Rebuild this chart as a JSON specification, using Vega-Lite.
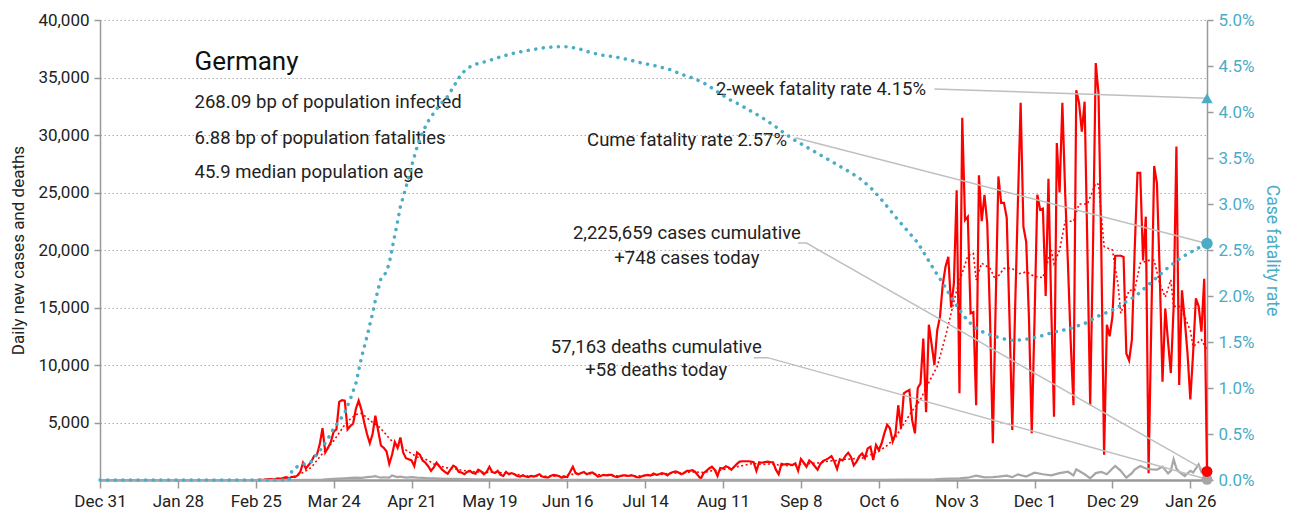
{
"$schema":"https://vega.github.io/schema/vega-lite/v6.json",
"width":1107,"height":460,
"autosize":{"type":"none"},
"padding":{"left":100,"top":20,"right":92,"bottom":40},
"config":{"font":"Roboto","view":{"stroke":null}},
"datasets":{
"cases":[
{"d":"2019-12-31","c":0},{"d":"2020-01-14","c":0},{"d":"2020-01-28","c":0},{"d":"2020-02-11","c":0},{"d":"2020-02-25","c":0},
{"d":"2020-02-26","c":10},{"d":"2020-02-27","c":20},{"d":"2020-02-28","c":30},{"d":"2020-02-29","c":60},
{"d":"2020-03-01","c":70},{"d":"2020-03-02","c":50},{"d":"2020-03-03","c":80},{"d":"2020-03-04","c":140},{"d":"2020-03-05","c":100},{"d":"2020-03-06","c":200},{"d":"2020-03-07","c":250},{"d":"2020-03-08","c":150},{"d":"2020-03-09","c":280},{"d":"2020-03-10","c":250},{"d":"2020-03-11","c":400},{"d":"2020-03-12","c":700},{"d":"2020-03-13","c":1500},{"d":"2020-03-14","c":1000},{"d":"2020-03-15","c":1300},{"d":"2020-03-16","c":1600},{"d":"2020-03-17","c":2100},{"d":"2020-03-18","c":2200},{"d":"2020-03-19","c":3100},{"d":"2020-03-20","c":4500},{"d":"2020-03-21","c":2400},{"d":"2020-03-22","c":2800},{"d":"2020-03-23","c":3300},{"d":"2020-03-24","c":4200},{"d":"2020-03-25","c":4400},{"d":"2020-03-26","c":6800},{"d":"2020-03-27","c":6950},{"d":"2020-03-28","c":6900},{"d":"2020-03-29","c":4400},{"d":"2020-03-30","c":4700},{"d":"2020-03-31","c":4900},
{"d":"2020-04-01","c":6200},{"d":"2020-04-02","c":6900},{"d":"2020-04-03","c":6100},{"d":"2020-04-04","c":5000},{"d":"2020-04-05","c":4000},{"d":"2020-04-06","c":3200},{"d":"2020-04-07","c":4000},{"d":"2020-04-08","c":5600},{"d":"2020-04-09","c":4300},{"d":"2020-04-10","c":3000},{"d":"2020-04-11","c":2800},{"d":"2020-04-12","c":2500},{"d":"2020-04-13","c":1400},{"d":"2020-04-14","c":2200},{"d":"2020-04-15","c":3300},{"d":"2020-04-16","c":2800},{"d":"2020-04-17","c":3700},{"d":"2020-04-18","c":2400},{"d":"2020-04-19","c":1900},{"d":"2020-04-20","c":1800},{"d":"2020-04-21","c":1700},{"d":"2020-04-22","c":1200},{"d":"2020-04-23","c":2400},{"d":"2020-04-24","c":2200},{"d":"2020-04-25","c":1700},{"d":"2020-04-26","c":1500},{"d":"2020-04-27","c":1200},{"d":"2020-04-28","c":800},{"d":"2020-04-29","c":1100},{"d":"2020-04-30","c":1500},
{"d":"2020-05-01","c":1200},{"d":"2020-05-02","c":900},{"d":"2020-05-03","c":700},{"d":"2020-05-04","c":550},{"d":"2020-05-05","c":900},{"d":"2020-05-06","c":1250},{"d":"2020-05-07","c":1100},{"d":"2020-05-08","c":700},{"d":"2020-05-09","c":650},{"d":"2020-05-10","c":500},{"d":"2020-05-11","c":700},{"d":"2020-05-12","c":800},{"d":"2020-05-13","c":600},{"d":"2020-05-14","c":550},{"d":"2020-05-15","c":900},{"d":"2020-05-16","c":750},{"d":"2020-05-17","c":500},{"d":"2020-05-18","c":700},{"d":"2020-05-19","c":1150},{"d":"2020-05-20","c":700},{"d":"2020-05-21","c":600},{"d":"2020-05-22","c":800},{"d":"2020-05-23","c":450},{"d":"2020-05-24","c":350},{"d":"2020-05-25","c":700},{"d":"2020-05-26","c":500},{"d":"2020-05-27","c":600},{"d":"2020-05-28","c":500},{"d":"2020-05-29","c":350},{"d":"2020-05-30","c":300},{"d":"2020-05-31","c":400},
{"d":"2020-06-01","c":300},{"d":"2020-06-02","c":250},{"d":"2020-06-03","c":350},{"d":"2020-06-04","c":300},{"d":"2020-06-05","c":400},{"d":"2020-06-06","c":500},{"d":"2020-06-07","c":300},{"d":"2020-06-08","c":250},{"d":"2020-06-09","c":200},{"d":"2020-06-10","c":350},{"d":"2020-06-11","c":450},{"d":"2020-06-12","c":400},{"d":"2020-06-13","c":350},{"d":"2020-06-14","c":200},{"d":"2020-06-15","c":300},{"d":"2020-06-16","c":250},{"d":"2020-06-17","c":700},{"d":"2020-06-18","c":1150},{"d":"2020-06-19","c":600},{"d":"2020-06-20","c":500},{"d":"2020-06-21","c":600},{"d":"2020-06-22","c":700},{"d":"2020-06-23","c":500},{"d":"2020-06-24","c":600},{"d":"2020-06-25","c":650},{"d":"2020-06-26","c":500},{"d":"2020-06-27","c":300},{"d":"2020-06-28","c":350},{"d":"2020-06-29","c":450},{"d":"2020-06-30","c":400},
{"d":"2020-07-01","c":450},{"d":"2020-07-02","c":450},{"d":"2020-07-03","c":300},{"d":"2020-07-04","c":250},{"d":"2020-07-05","c":350},{"d":"2020-07-06","c":400},{"d":"2020-07-07","c":400},{"d":"2020-07-08","c":350},{"d":"2020-07-09","c":420},{"d":"2020-07-10","c":350},{"d":"2020-07-11","c":250},{"d":"2020-07-12","c":220},{"d":"2020-07-13","c":350},{"d":"2020-07-14","c":400},{"d":"2020-07-15","c":450},{"d":"2020-07-16","c":380},{"d":"2020-07-17","c":560},{"d":"2020-07-18","c":450},{"d":"2020-07-19","c":500},{"d":"2020-07-20","c":600},{"d":"2020-07-21","c":550},{"d":"2020-07-22","c":400},{"d":"2020-07-23","c":600},{"d":"2020-07-24","c":700},{"d":"2020-07-25","c":750},{"d":"2020-07-26","c":650},{"d":"2020-07-27","c":500},{"d":"2020-07-28","c":600},{"d":"2020-07-29","c":800},{"d":"2020-07-30","c":800},{"d":"2020-07-31","c":850},
{"d":"2020-08-01","c":700},{"d":"2020-08-02","c":400},{"d":"2020-08-03","c":100},{"d":"2020-08-04","c":600},{"d":"2020-08-05","c":800},{"d":"2020-08-06","c":1000},{"d":"2020-08-07","c":1150},{"d":"2020-08-08","c":900},{"d":"2020-08-09","c":350},{"d":"2020-08-10","c":1050},{"d":"2020-08-11","c":1000},{"d":"2020-08-12","c":1200},{"d":"2020-08-13","c":1100},{"d":"2020-08-14","c":900},{"d":"2020-08-15","c":1150},{"d":"2020-08-16","c":1400},{"d":"2020-08-17","c":1600},{"d":"2020-08-18","c":1630},{"d":"2020-08-19","c":1630},{"d":"2020-08-20","c":1630},{"d":"2020-08-21","c":1600},{"d":"2020-08-22","c":1550},{"d":"2020-08-23","c":800},{"d":"2020-08-24","c":1550},{"d":"2020-08-25","c":1500},{"d":"2020-08-26","c":1550},{"d":"2020-08-27","c":1600},{"d":"2020-08-28","c":1550},{"d":"2020-08-29","c":1540},{"d":"2020-08-30","c":900},{"d":"2020-08-31","c":500},
{"d":"2020-09-01","c":1400},{"d":"2020-09-02","c":1350},{"d":"2020-09-03","c":1400},{"d":"2020-09-04","c":1350},{"d":"2020-09-05","c":1300},{"d":"2020-09-06","c":1450},{"d":"2020-09-07","c":800},{"d":"2020-09-08","c":1830},{"d":"2020-09-09","c":1500},{"d":"2020-09-10","c":1150},{"d":"2020-09-11","c":1690},{"d":"2020-09-12","c":1500},{"d":"2020-09-13","c":1200},{"d":"2020-09-14","c":890},{"d":"2020-09-15","c":1400},{"d":"2020-09-16","c":1650},{"d":"2020-09-17","c":1770},{"d":"2020-09-18","c":1900},{"d":"2020-09-19","c":2070},{"d":"2020-09-20","c":1600},{"d":"2020-09-21","c":960},{"d":"2020-09-22","c":1800},{"d":"2020-09-23","c":1700},{"d":"2020-09-24","c":2100},{"d":"2020-09-25","c":2370},{"d":"2020-09-26","c":2000},{"d":"2020-09-27","c":1270},{"d":"2020-09-28","c":1600},{"d":"2020-09-29","c":2070},{"d":"2020-09-30","c":2300},
{"d":"2020-10-01","c":1900},{"d":"2020-10-02","c":2750},{"d":"2020-10-03","c":2900},{"d":"2020-10-04","c":1740},{"d":"2020-10-05","c":3050},{"d":"2020-10-06","c":2600},{"d":"2020-10-07","c":3170},{"d":"2020-10-08","c":4050},{"d":"2020-10-09","c":4800},{"d":"2020-10-10","c":4500},{"d":"2020-10-11","c":3350},{"d":"2020-10-12","c":4000},{"d":"2020-10-13","c":6500},{"d":"2020-10-14","c":4500},{"d":"2020-10-15","c":7540},{"d":"2020-10-16","c":7700},{"d":"2020-10-17","c":7830},{"d":"2020-10-18","c":5200},{"d":"2020-10-19","c":4060},{"d":"2020-10-20","c":8000},{"d":"2020-10-21","c":8400},{"d":"2020-10-22","c":12300},{"d":"2020-10-23","c":5900},{"d":"2020-10-24","c":13500},{"d":"2020-10-25","c":11800},{"d":"2020-10-26","c":10000},{"d":"2020-10-27","c":13000},{"d":"2020-10-28","c":14200},{"d":"2020-10-29","c":17000},{"d":"2020-10-30","c":18560},{"d":"2020-10-31","c":19400},
{"d":"2020-11-01","c":15000},{"d":"2020-11-02","c":17100},{"d":"2020-11-03","c":25200},{"d":"2020-11-04","c":7540},{"d":"2020-11-05","c":31500},{"d":"2020-11-06","c":22600},{"d":"2020-11-07","c":22900},{"d":"2020-11-08","c":14500},{"d":"2020-11-09","c":14600},{"d":"2020-11-10","c":6500},{"d":"2020-11-11","c":26500},{"d":"2020-11-12","c":22500},{"d":"2020-11-13","c":24800},{"d":"2020-11-14","c":22300},{"d":"2020-11-15","c":14000},{"d":"2020-11-16","c":3200},{"d":"2020-11-17","c":15000},{"d":"2020-11-18","c":26400},{"d":"2020-11-19","c":24100},{"d":"2020-11-20","c":24100},{"d":"2020-11-21","c":22800},{"d":"2020-11-22","c":14000},{"d":"2020-11-23","c":4350},{"d":"2020-11-24","c":14800},{"d":"2020-11-25","c":24000},{"d":"2020-11-26","c":32800},{"d":"2020-11-27","c":22000},{"d":"2020-11-28","c":20700},{"d":"2020-11-29","c":14000},{"d":"2020-11-30","c":4060},
{"d":"2020-12-01","c":14000},{"d":"2020-12-02","c":24800},{"d":"2020-12-03","c":23500},{"d":"2020-12-04","c":23600},{"d":"2020-12-05","c":16000},{"d":"2020-12-06","c":26200},{"d":"2020-12-07","c":15000},{"d":"2020-12-08","c":5500},{"d":"2020-12-09","c":29300},{"d":"2020-12-10","c":25000},{"d":"2020-12-11","c":32800},{"d":"2020-12-12","c":25000},{"d":"2020-12-13","c":18800},{"d":"2020-12-14","c":12000},{"d":"2020-12-15","c":6500},{"d":"2020-12-16","c":33900},{"d":"2020-12-17","c":32800},{"d":"2020-12-18","c":30300},{"d":"2020-12-19","c":32900},{"d":"2020-12-20","c":20000},{"d":"2020-12-21","c":6500},{"d":"2020-12-22","c":20000},{"d":"2020-12-23","c":36250},{"d":"2020-12-24","c":33600},{"d":"2020-12-25","c":20000},{"d":"2020-12-26","c":2200},{"d":"2020-12-27","c":13500},{"d":"2020-12-28","c":12500},{"d":"2020-12-29","c":14200},{"d":"2020-12-30","c":19500},{"d":"2020-12-31","c":19500},
{"d":"2021-01-01","c":19500},{"d":"2021-01-02","c":19400},{"d":"2021-01-03","c":11000},{"d":"2021-01-04","c":10400},{"d":"2021-01-05","c":12200},{"d":"2021-01-06","c":20000},{"d":"2021-01-07","c":26700},{"d":"2021-01-08","c":26700},{"d":"2021-01-09","c":19100},{"d":"2021-01-10","c":22900},{"d":"2021-01-11","c":580},{"d":"2021-01-12","c":14000},{"d":"2021-01-13","c":27300},{"d":"2021-01-14","c":25800},{"d":"2021-01-15","c":18000},{"d":"2021-01-16","c":8550},{"d":"2021-01-17","c":14900},{"d":"2021-01-18","c":12000},{"d":"2021-01-19","c":9300},{"d":"2021-01-20","c":15000},{"d":"2021-01-21","c":29000},{"d":"2021-01-22","c":8270},{"d":"2021-01-23","c":16500},{"d":"2021-01-24","c":13900},{"d":"2021-01-25","c":11000},{"d":"2021-01-26","c":7000},{"d":"2021-01-27","c":11000},{"d":"2021-01-28","c":15800},{"d":"2021-01-29","c":15100},{"d":"2021-01-30","c":12900},{"d":"2021-01-31","c":17500},{"d":"2021-02-01","c":748}
],
"avg":[
{"d":"2019-12-31","a":0},{"d":"2020-02-25","a":0},{"d":"2020-02-29","a":20},{"d":"2020-03-04","a":70},{"d":"2020-03-08","a":170},{"d":"2020-03-12","a":500},{"d":"2020-03-16","a":1100},{"d":"2020-03-20","a":2300},{"d":"2020-03-24","a":3400},{"d":"2020-03-26","a":4100},{"d":"2020-03-28","a":4800},{"d":"2020-03-30","a":5300},{"d":"2020-04-01","a":5700},{"d":"2020-04-03","a":5800},{"d":"2020-04-05","a":5400},{"d":"2020-04-07","a":5000},{"d":"2020-04-09","a":4700},{"d":"2020-04-11","a":4200},{"d":"2020-04-13","a":3600},{"d":"2020-04-15","a":3200},{"d":"2020-04-17","a":2900},{"d":"2020-04-19","a":2600},{"d":"2020-04-21","a":2300},{"d":"2020-04-23","a":2000},{"d":"2020-04-25","a":1900},{"d":"2020-04-27","a":1700},{"d":"2020-04-29","a":1400},{"d":"2020-05-01","a":1250},{"d":"2020-05-03","a":1100},{"d":"2020-05-05","a":1000},{"d":"2020-05-07","a":950},{"d":"2020-05-09","a":850},{"d":"2020-05-12","a":750},{"d":"2020-05-15","a":700},{"d":"2020-05-18","a":650},{"d":"2020-05-21","a":700},{"d":"2020-05-24","a":600},{"d":"2020-05-27","a":550},{"d":"2020-05-30","a":450},{"d":"2020-06-02","a":350},{"d":"2020-06-05","a":330},{"d":"2020-06-08","a":330},{"d":"2020-06-11","a":320},{"d":"2020-06-14","a":320},{"d":"2020-06-17","a":450},{"d":"2020-06-20","a":600},{"d":"2020-06-23","a":560},{"d":"2020-06-26","a":520},{"d":"2020-06-29","a":420},{"d":"2020-07-02","a":380},{"d":"2020-07-05","a":350},{"d":"2020-07-08","a":380},{"d":"2020-07-11","a":350},{"d":"2020-07-14","a":380},{"d":"2020-07-17","a":430},{"d":"2020-07-20","a":500},{"d":"2020-07-23","a":580},{"d":"2020-07-26","a":620},{"d":"2020-07-29","a":680},{"d":"2020-08-01","a":700},{"d":"2020-08-04","a":650},{"d":"2020-08-07","a":800},{"d":"2020-08-10","a":850},{"d":"2020-08-13","a":1000},{"d":"2020-08-16","a":1150},{"d":"2020-08-19","a":1300},{"d":"2020-08-22","a":1450},{"d":"2020-08-25","a":1350},{"d":"2020-08-28","a":1400},{"d":"2020-08-31","a":1300},{"d":"2020-09-03","a":1250},{"d":"2020-09-06","a":1300},{"d":"2020-09-09","a":1400},{"d":"2020-09-12","a":1450},{"d":"2020-09-15","a":1500},{"d":"2020-09-18","a":1650},{"d":"2020-09-21","a":1700},{"d":"2020-09-24","a":1800},{"d":"2020-09-27","a":1850},{"d":"2020-09-30","a":1900},{"d":"2020-10-03","a":2200},{"d":"2020-10-06","a":2500},{"d":"2020-10-09","a":3000},{"d":"2020-10-12","a":3700},{"d":"2020-10-15","a":4900},{"d":"2020-10-18","a":6000},{"d":"2020-10-21","a":7000},{"d":"2020-10-24","a":8500},{"d":"2020-10-27","a":9860},{"d":"2020-10-30","a":12500},{"d":"2020-11-01","a":14500},{"d":"2020-11-03","a":16500},{"d":"2020-11-05","a":18000},{"d":"2020-11-07","a":19500},{"d":"2020-11-09","a":19700},{"d":"2020-11-10","a":17400},{"d":"2020-11-12","a":18850},{"d":"2020-11-15","a":18400},{"d":"2020-11-17","a":17400},{"d":"2020-11-20","a":18400},{"d":"2020-11-23","a":18400},{"d":"2020-11-25","a":17900},{"d":"2020-11-28","a":18100},{"d":"2020-12-01","a":17700},{"d":"2020-12-04","a":17600},{"d":"2020-12-07","a":20000},{"d":"2020-12-08","a":18800},{"d":"2020-12-10","a":20000},{"d":"2020-12-12","a":22500},{"d":"2020-12-15","a":22500},{"d":"2020-12-17","a":24000},{"d":"2020-12-20","a":24000},{"d":"2020-12-23","a":25800},{"d":"2020-12-24","a":25700},{"d":"2020-12-26","a":20300},{"d":"2020-12-29","a":20000},{"d":"2020-12-31","a":17000},{"d":"2021-01-01","a":14500},{"d":"2021-01-04","a":16500},{"d":"2021-01-06","a":16500},{"d":"2021-01-08","a":18850},{"d":"2021-01-11","a":19100},{"d":"2021-01-13","a":19100},{"d":"2021-01-15","a":17100},{"d":"2021-01-17","a":15900},{"d":"2021-01-19","a":17400},{"d":"2021-01-20","a":15100},{"d":"2021-01-22","a":15100},{"d":"2021-01-24","a":14200},{"d":"2021-01-26","a":13000},{"d":"2021-01-27","a":11600},{"d":"2021-01-30","a":12200},{"d":"2021-02-01","a":11300}
],
"deaths":[
{"d":"2019-12-31","x":0},{"d":"2020-02-25","x":0},{"d":"2020-03-08","x":0},{"d":"2020-03-10","x":2},{"d":"2020-03-15","x":10},{"d":"2020-03-20","x":40},{"d":"2020-03-24","x":90},{"d":"2020-03-26","x":120},{"d":"2020-03-28","x":150},{"d":"2020-03-30","x":180},{"d":"2020-04-01","x":200},{"d":"2020-04-03","x":180},{"d":"2020-04-05","x":250},{"d":"2020-04-07","x":300},{"d":"2020-04-08","x":340},{"d":"2020-04-09","x":260},{"d":"2020-04-10","x":200},{"d":"2020-04-11","x":240},{"d":"2020-04-13","x":200},{"d":"2020-04-14","x":400},{"d":"2020-04-15","x":315},{"d":"2020-04-16","x":250},{"d":"2020-04-17","x":300},{"d":"2020-04-19","x":200},{"d":"2020-04-21","x":250},{"d":"2020-04-23","x":200},{"d":"2020-04-25","x":180},{"d":"2020-04-27","x":150},{"d":"2020-04-29","x":140},{"d":"2020-05-01","x":120},{"d":"2020-05-04","x":100},{"d":"2020-05-07","x":90},{"d":"2020-05-10","x":70},{"d":"2020-05-14","x":60},{"d":"2020-05-19","x":50},{"d":"2020-05-24","x":40},{"d":"2020-05-29","x":30},{"d":"2020-06-03","x":20},{"d":"2020-06-08","x":15},{"d":"2020-06-18","x":10},{"d":"2020-06-28","x":8},{"d":"2020-07-18","x":6},{"d":"2020-08-07","x":5},{"d":"2020-08-27","x":6},{"d":"2020-09-16","x":8},{"d":"2020-10-06","x":15},{"d":"2020-10-16","x":30},{"d":"2020-10-21","x":40},{"d":"2020-10-26","x":60},{"d":"2020-10-29","x":100},{"d":"2020-11-01","x":130},{"d":"2020-11-04","x":150},{"d":"2020-11-07","x":200},{"d":"2020-11-10","x":380},{"d":"2020-11-13","x":230},{"d":"2020-11-16","x":250},{"d":"2020-11-18","x":290},{"d":"2020-11-21","x":380},{"d":"2020-11-23","x":250},{"d":"2020-11-25","x":490},{"d":"2020-11-28","x":300},{"d":"2020-12-01","x":640},{"d":"2020-12-04","x":500},{"d":"2020-12-07","x":400},{"d":"2020-12-10","x":600},{"d":"2020-12-13","x":720},{"d":"2020-12-15","x":400},{"d":"2020-12-16","x":930},{"d":"2020-12-19","x":500},{"d":"2020-12-21","x":150},{"d":"2020-12-23","x":600},{"d":"2020-12-25","x":700},{"d":"2020-12-27","x":500},{"d":"2020-12-29","x":1000},{"d":"2020-12-30","x":1220},{"d":"2021-01-01","x":800},{"d":"2021-01-03","x":200},{"d":"2021-01-05","x":600},{"d":"2021-01-06","x":900},{"d":"2021-01-08","x":1220},{"d":"2021-01-10","x":1000},{"d":"2021-01-12","x":930},{"d":"2021-01-14","x":900},{"d":"2021-01-16","x":1160},{"d":"2021-01-18","x":580},{"d":"2021-01-19","x":800},{"d":"2021-01-20","x":1800},{"d":"2021-01-21","x":1000},{"d":"2021-01-22","x":700},{"d":"2021-01-24","x":350},{"d":"2021-01-26","x":800},{"d":"2021-01-27","x":650},{"d":"2021-01-29","x":1360},{"d":"2021-01-30","x":700},{"d":"2021-01-31","x":900},{"d":"2021-02-01","x":58}
],
"cfr":[
{"d":"2019-12-31","r":0},{"d":"2020-01-28","r":0},{"d":"2020-02-25","r":0},{"d":"2020-03-08","r":0},{"d":"2020-03-09","r":0.001},{"d":"2020-03-10","r":0.0013},{"d":"2020-03-12","r":0.0016},{"d":"2020-03-14","r":0.0018},{"d":"2020-03-16","r":0.002},{"d":"2020-03-18","r":0.0028},{"d":"2020-03-20","r":0.0036},{"d":"2020-03-22","r":0.0045},{"d":"2020-03-24","r":0.0056},{"d":"2020-03-26","r":0.0064},{"d":"2020-03-28","r":0.0073},{"d":"2020-03-30","r":0.0088},{"d":"2020-04-01","r":0.0105},{"d":"2020-04-03","r":0.0133},{"d":"2020-04-05","r":0.0156},{"d":"2020-04-07","r":0.0181},{"d":"2020-04-08","r":0.0195},{"d":"2020-04-10","r":0.0219},{"d":"2020-04-12","r":0.0226},{"d":"2020-04-13","r":0.0236},{"d":"2020-04-15","r":0.0266},{"d":"2020-04-17","r":0.0297},{"d":"2020-04-19","r":0.0318},{"d":"2020-04-21","r":0.0341},{"d":"2020-04-23","r":0.0362},{"d":"2020-04-25","r":0.0378},{"d":"2020-04-27","r":0.039},{"d":"2020-04-29","r":0.0399},{"d":"2020-05-01","r":0.0407},{"d":"2020-05-04","r":0.0417},{"d":"2020-05-07","r":0.0432},{"d":"2020-05-09","r":0.0442},{"d":"2020-05-12","r":0.0449},{"d":"2020-05-15","r":0.0453},{"d":"2020-05-18","r":0.0455},{"d":"2020-05-21","r":0.0458},{"d":"2020-05-24","r":0.0461},{"d":"2020-05-28","r":0.0464},{"d":"2020-05-31","r":0.0466},{"d":"2020-06-04","r":0.0468},{"d":"2020-06-08","r":0.047},{"d":"2020-06-12","r":0.0471},{"d":"2020-06-16","r":0.0471},{"d":"2020-06-20","r":0.0469},{"d":"2020-06-24","r":0.0465},{"d":"2020-06-28","r":0.0462},{"d":"2020-07-03","r":0.046},{"d":"2020-07-08","r":0.0457},{"d":"2020-07-13","r":0.0453},{"d":"2020-07-18","r":0.045},{"d":"2020-07-23","r":0.0446},{"d":"2020-07-28","r":0.044},{"d":"2020-08-01","r":0.0436},{"d":"2020-08-05","r":0.043},{"d":"2020-08-09","r":0.0422},{"d":"2020-08-13","r":0.0414},{"d":"2020-08-17","r":0.0408},{"d":"2020-08-21","r":0.0401},{"d":"2020-08-25","r":0.0394},{"d":"2020-08-29","r":0.0386},{"d":"2020-09-02","r":0.0377},{"d":"2020-09-06","r":0.0369},{"d":"2020-09-10","r":0.0362},{"d":"2020-09-14","r":0.0355},{"d":"2020-09-18","r":0.0348},{"d":"2020-09-22","r":0.0341},{"d":"2020-09-26","r":0.0334},{"d":"2020-09-30","r":0.0326},{"d":"2020-10-04","r":0.0315},{"d":"2020-10-08","r":0.0301},{"d":"2020-10-12","r":0.0286},{"d":"2020-10-16","r":0.0272},{"d":"2020-10-20","r":0.0258},{"d":"2020-10-23","r":0.0243},{"d":"2020-10-26","r":0.0228},{"d":"2020-10-29","r":0.0214},{"d":"2020-11-01","r":0.0199},{"d":"2020-11-04","r":0.0185},{"d":"2020-11-07","r":0.0173},{"d":"2020-11-10","r":0.0165},{"d":"2020-11-13","r":0.016},{"d":"2020-11-16","r":0.0157},{"d":"2020-11-19","r":0.0154},{"d":"2020-11-22","r":0.0152},{"d":"2020-11-25","r":0.0152},{"d":"2020-11-28","r":0.0153},{"d":"2020-12-01","r":0.0155},{"d":"2020-12-04","r":0.0157},{"d":"2020-12-07","r":0.016},{"d":"2020-12-10","r":0.0162},{"d":"2020-12-13","r":0.0164},{"d":"2020-12-16","r":0.0167},{"d":"2020-12-19","r":0.017},{"d":"2020-12-22","r":0.0175},{"d":"2020-12-25","r":0.018},{"d":"2020-12-28","r":0.0183},{"d":"2020-12-31","r":0.0188},{"d":"2021-01-03","r":0.0194},{"d":"2021-01-06","r":0.0199},{"d":"2021-01-09","r":0.0207},{"d":"2021-01-12","r":0.0215},{"d":"2021-01-15","r":0.0223},{"d":"2021-01-18","r":0.0231},{"d":"2021-01-21","r":0.0238},{"d":"2021-01-24","r":0.0244},{"d":"2021-01-27","r":0.0249},{"d":"2021-01-30","r":0.0254},{"d":"2021-02-01","r":0.0257}
],
"leadersL":[
{"g":"cases","d":"2020-09-07","v":20600},{"g":"cases","d":"2020-09-10","v":20600},{"g":"cases","d":"2021-02-01","v":748},
{"g":"deaths","d":"2020-08-22","v":10640},{"g":"deaths","d":"2020-08-27","v":10640},{"g":"deaths","d":"2021-02-01","v":58}
],
"leadersR":[
{"g":"2wk","d":"2020-10-26","r":0.0425},{"g":"2wk","d":"2021-02-01","r":0.0415},
{"g":"cume","d":"2020-09-06","r":0.0372},{"g":"cume","d":"2021-02-01","r":0.0257}
],
"endL":[{"s":"deaths","d":"2021-02-01","v":58},{"s":"cases","d":"2021-02-01","v":748}],
"endR":[{"s":"cume","d":"2021-02-01","r":0.0257},{"s":"2wk","d":"2021-02-01","r":0.0415}],
"title":[{"d":"2020-02-03","v":36350,"t":"Germany"}],
"info":[{"d":"2020-02-03","v":32870,"t":"268.09 bp of population infected"},{"d":"2020-02-03","v":29740,"t":"6.88 bp of population fatalities"},{"d":"2020-02-03","v":26780,"t":"45.9 median population age"}],
"notesRight":[{"d":"2020-10-23","v":34000,"t":"2-week fatality rate 4.15%"},{"d":"2020-09-03","v":29565,"t":"Cume fatality rate 2.57%"}],
"notesCenter":[{"d":"2020-07-29","v":21480,"t":"2,225,659 cases cumulative"},{"d":"2020-07-29","v":19300,"t":"+748 cases today"},{"d":"2020-07-18","v":11570,"t":"57,163 deaths cumulative"},{"d":"2020-07-18","v":9565,"t":"+58 deaths today"}]
},
"layer":[
{"layer":[
{"data":{"name":"cases"},"mark":{"type":"line","color":"#ff0000","strokeWidth":2.2},
"encoding":{
"x":{"field":"d","type":"temporal","scale":{"type":"utc","domain":[1577750400000,1612137600000],"nice":false},
"axis":{"values":[1577750400000,1580169600000,1582588800000,1585008000000,1587427200000,1589846400000,1592265600000,1594684800000,1597104000000,1599523200000,1601942400000,1604361600000,1606780800000,1609200000000,1611619200000],"format":"%b %-d","title":null,"grid":false,"labelFontSize":17,"labelColor":"#222","labelPadding":5,"tickColor":"#999","tickSize":8,"tickWidth":1.5,"domainColor":"#999","domainWidth":2.5,"labelFlush":false,"labelOverlap":false}},
"y":{"field":"c","type":"quantitative","scale":{"domain":[0,40000],"nice":false},
"axis":{"orient":"left","values":[5000,10000,15000,20000,25000,30000,35000,40000],"labelExpr":"format(datum.value, ',')","title":"Daily new cases and deaths","titleFontSize":17,"titleFontWeight":"normal","titleColor":"#222","titlePadding":10,"labelFontSize":17,"labelColor":"#222","labelPadding":5,"grid":true,"gridColor":"#aaaaaa","gridDash":[1.5,2.5],"gridWidth":1,"domainColor":"#999","domainWidth":1.5,"tickColor":"#999","tickSize":6,"tickWidth":1.5}}}},
{"data":{"name":"avg"},"mark":{"type":"line","color":"#ff0000","strokeWidth":1.6,"strokeDash":[2,2.5]},
"encoding":{"x":{"field":"d","type":"temporal"},"y":{"field":"a","type":"quantitative"}}},
{"data":{"name":"deaths"},"mark":{"type":"line","color":"#a6a6a6","strokeWidth":2.2},
"encoding":{"x":{"field":"d","type":"temporal"},"y":{"field":"x","type":"quantitative"}}},
{"data":{"name":"leadersL"},"mark":{"type":"line","color":"#bfbfbf","strokeWidth":1.5},
"encoding":{"x":{"field":"d","type":"temporal"},"y":{"field":"v","type":"quantitative"},"detail":{"field":"g"}}},
{"data":{"name":"endL"},"mark":{"type":"point","filled":true,"opacity":1,"size":120},
"encoding":{"x":{"field":"d","type":"temporal"},"y":{"field":"v","type":"quantitative"},
"color":{"field":"s","type":"nominal","scale":{"domain":["cases","deaths"],"range":["#ff0000","#a6a6a6"]},"legend":null}}},
{"data":{"name":"title"},"mark":{"type":"text","align":"left","baseline":"middle","fontSize":26,"color":"#111"},
"encoding":{"x":{"field":"d","type":"temporal"},"y":{"field":"v","type":"quantitative"},"text":{"field":"t"}}},
{"data":{"name":"info"},"mark":{"type":"text","align":"left","baseline":"middle","fontSize":18.5,"color":"#222"},
"encoding":{"x":{"field":"d","type":"temporal"},"y":{"field":"v","type":"quantitative"},"text":{"field":"t"}}},
{"data":{"name":"notesRight"},"mark":{"type":"text","align":"right","baseline":"middle","fontSize":18.5,"color":"#222"},
"encoding":{"x":{"field":"d","type":"temporal"},"y":{"field":"v","type":"quantitative"},"text":{"field":"t"}}},
{"data":{"name":"notesCenter"},"mark":{"type":"text","align":"center","baseline":"middle","fontSize":18.5,"color":"#222"},
"encoding":{"x":{"field":"d","type":"temporal"},"y":{"field":"v","type":"quantitative"},"text":{"field":"t"}}}
]},
{"layer":[
{"data":{"name":"cfr"},"mark":{"type":"line","color":"#4bacc6","strokeWidth":3.5,"strokeDash":[0.1,7.5],"strokeCap":"round"},
"encoding":{"x":{"field":"d","type":"temporal"},
"y":{"field":"r","type":"quantitative","scale":{"domain":[0,0.05],"nice":false},
"axis":{"orient":"right","values":[0,0.005,0.01,0.015,0.02,0.025,0.03,0.035,0.04,0.045,0.05],"format":".1%","title":"Case fatality rate","titleColor":"#4bacc6","titleFontSize":17.5,"titleFontWeight":"normal","titlePadding":8,"labelColor":"#4bacc6","labelFontSize":17,"labelPadding":5,"grid":false,"domainColor":"#999","domainWidth":1.5,"tickColor":"#999","tickSize":6,"tickWidth":1.5}}}},
{"data":{"name":"leadersR"},"mark":{"type":"line","color":"#bfbfbf","strokeWidth":1.5},
"encoding":{"x":{"field":"d","type":"temporal"},"y":{"field":"r","type":"quantitative"},"detail":{"field":"g"}}},
{"data":{"name":"endR"},"mark":{"type":"point","filled":true,"opacity":1,"size":130,"color":"#4bacc6"},
"encoding":{"x":{"field":"d","type":"temporal"},"y":{"field":"r","type":"quantitative"},
"shape":{"field":"s","type":"nominal","scale":{"domain":["cume","2wk"],"range":["circle","triangle-up"]},"legend":null}}}
]}
],
"resolve":{"scale":{"y":"independent"}}
}
